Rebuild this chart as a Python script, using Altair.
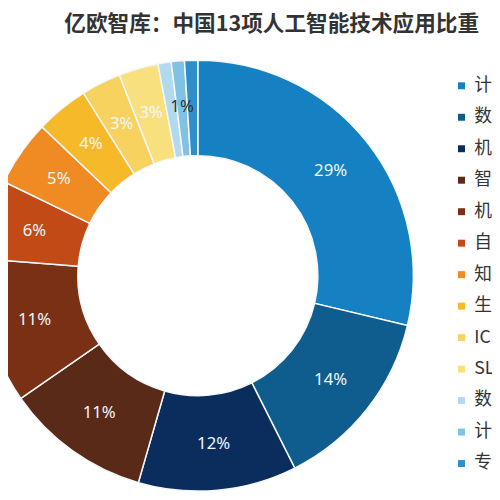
import altair as alt
import pandas as pd

title_text = "亿欧智库：中国13项人工智能技术应用比重"
categories = ["计算机视觉", "数据挖掘", "机器学习", "智能机器人", "机器人流程自动化",
              "自然语言处理", "知识图谱", "生物识别", "ICR/OCR", "SLAM",
              "数字孪生", "计算机听觉", "专家系统"]
values = [29, 14, 12, 11, 11, 6, 5, 4, 3, 3, 1, 1, 1]
colors = ["#1580c2", "#0e5d8e", "#0b2d5e", "#5a2a18", "#7a3015", "#c24a17", "#f08a22",
          "#f6b92a", "#f8d25e", "#f9e07e", "#b2d9ee", "#7fc2e4", "#2f8fc8"]
label_shown = [True] * 10 + [False, True, False]
label_colors = ["#eef6fb"] * 10 + ["#333333"] * 3

df = pd.DataFrame({
    "category": categories,
    "value": values,
    "idx": list(range(len(values))),
    "pct": [f"{v}%" if s else "" for v, s in zip(values, label_shown)],
    "tcolor": label_colors,
})

cx, cy = 193, 268

base = alt.Chart(df).encode(
    theta=alt.Theta("value:Q", stack=True),
    order=alt.Order("idx:Q", sort="ascending"),
)

arcs = base.mark_arc(
    innerRadius=122, outerRadius=219, stroke="#f4f8fb", strokeWidth=1.5, x=cx, y=cy
).encode(
    color=alt.Color(
        "category:N",
        scale=alt.Scale(domain=categories, range=colors),
        legend=alt.Legend(
            orient="none", legendX=452, legendY=66, title=None,
            symbolType="square", symbolSize=50, symbolStrokeWidth=0,
            labelFontSize=18, labelColor="#333333", labelFont="Noto Sans CJK SC",
            rowPadding=14, labelOffset=4, padding=0, labelLimit=300,
        ),
    )
)

labels = base.mark_text(
    radius=172, x=cx, y=cy, fontSize=17, font="Noto Sans"
).encode(
    text="pct:N",
    color=alt.Color("tcolor:N", scale=None),
)

title = alt.Chart(pd.DataFrame({"t": [title_text]})).mark_text(
    x=268, y=12, fontSize=22, fontWeight="bold", align="center",
    font="Noto Sans CJK SC", color="#333333"
).encode(text="t:N")

chart = alt.layer(arcs, labels, title).properties(
    width=492, height=492, autosize=alt.AutoSizeParams(type="none"), padding=0
).configure_view(stroke=None)

chart.save("out.html", embed_options={"renderer": "svg", "actions": False})
